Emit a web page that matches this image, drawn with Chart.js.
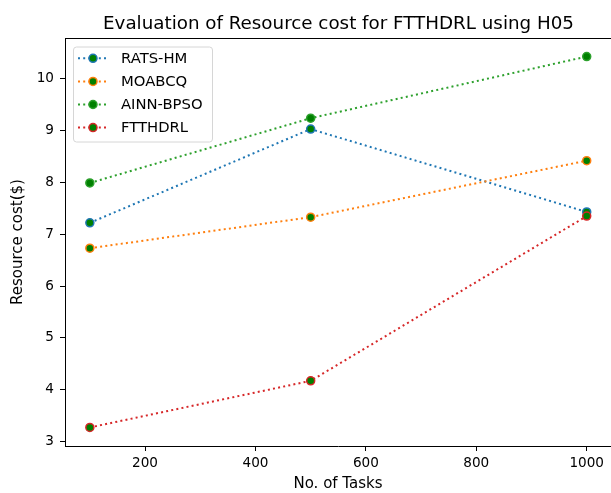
<!DOCTYPE html>
<html>
<head>
<meta charset="utf-8">
<script src="https://cdn.jsdelivr.net/npm/chart.js@4/dist/chart.umd.min.js"></script>
<style>
  html, body { margin: 0; padding: 0; background: #fff; }
  #wrap { width: 611px; height: 493px; }
</style>
</head>
<body>
<div id="wrap"><canvas id="c" width="611" height="493"></canvas></div>
<script>
// Number of tasks on the x axis
const tasks = [100, 500, 1000];

// Resource cost ($) per method
const ratsHm   = [7.22, 9.03, 7.43];
const moabcq   = [6.73, 7.33, 8.42];
const ainnBpso = [7.99, 9.24, 10.43];
const ftthdrl  = [3.27, 4.17, 7.35];

const seriesLabels = ['RATS-HM', 'MOABCQ', 'AINN-BPSO', 'FTTHDRL'];
const seriesColors = ['#1f77b4', '#ff7f0e', '#2ca02c', '#d62728'];
const markerFill = '#008000';

// Axis ticks
const xTicks = [200, 400, 600, 800, 1000];
const yTicks = [3, 4, 5, 6, 7, 8, 9, 10];

const chartTitle = 'Evaluation of Resource cost for FTTHDRL using H05';

const FONT = 'DejaVu Sans';
const dash = [2, 3.2];

const seriesData = [ratsHm, moabcq, ainnBpso, ftthdrl];
const datasets = seriesData.map((vals, i) => ({
  label: seriesLabels[i],
  data: tasks.map((t, j) => ({ x: t, y: vals[j] })),
  borderColor: seriesColors[i],
  backgroundColor: markerFill,
  borderWidth: 2,
  borderDash: dash,
  borderCapStyle: 'butt',
  pointRadius: 4,
  pointBorderWidth: 1.5,
  pointBorderColor: seriesColors[i],
  pointBackgroundColor: markerFill,
  fill: false,
  tension: 0,
  order: seriesData.length - i
}));

// Title above the axes and the top spine of the axes box
const frame = {
  id: 'frame',
  afterDraw(chart) {
    const { ctx, chartArea: a } = chart;
    ctx.save();
    ctx.strokeStyle = '#000';
    ctx.lineWidth = 1;
    ctx.beginPath();
    ctx.moveTo(a.left, a.top + 0.5);
    ctx.lineTo(a.right, a.top + 0.5);
    ctx.stroke();
    ctx.fillStyle = '#000';
    ctx.font = '18.3px "' + FONT + '"';
    ctx.textAlign = 'center';
    ctx.textBaseline = 'alphabetic';
    ctx.fillText(chartTitle, 338.5, 28.5);
    ctx.restore();
  }
};

// Legend box in the upper-left corner of the plot
const innerLegend = {
  id: 'innerLegend',
  afterDraw(chart) {
    const { ctx, chartArea: a } = chart;
    const x0 = a.left + 8, y0 = a.top + 8.5, w = 139, h = 95;
    ctx.save();
    ctx.beginPath();
    ctx.roundRect(x0 + 0.5, y0 + 0.5, w, h, 3);
    ctx.fillStyle = 'rgba(255,255,255,0.8)';
    ctx.fill();
    ctx.strokeStyle = '#d6d6d6';
    ctx.lineWidth = 1;
    ctx.stroke();
    chart.data.datasets.forEach((ds, i) => {
      const y = y0 + 11.8 + i * 23.1;
      ctx.beginPath();
      ctx.setLineDash(dash);
      ctx.lineWidth = 2;
      ctx.strokeStyle = ds.borderColor;
      ctx.moveTo(x0 + 5, y);
      ctx.lineTo(x0 + 33, y);
      ctx.stroke();
      ctx.setLineDash([]);
      ctx.beginPath();
      ctx.arc(x0 + 20, y, 4, 0, Math.PI * 2);
      ctx.fillStyle = ds.pointBackgroundColor;
      ctx.fill();
      ctx.lineWidth = 1.5;
      ctx.strokeStyle = ds.pointBorderColor;
      ctx.stroke();
      ctx.fillStyle = '#000';
      ctx.font = '14.8px "' + FONT + '"';
      ctx.textAlign = 'left';
      ctx.textBaseline = 'middle';
      ctx.fillText(ds.label, x0 + 48, y + 0.5);
    });
    ctx.restore();
  }
};

new Chart(document.getElementById('c'), {
  type: 'line',
  data: { datasets },
  plugins: [frame, innerLegend],
  options: {
    responsive: false,
    animation: false,
    layout: { autoPadding: false, padding: { left: 0, right: 0, top: 38, bottom: 0 } },
    plugins: {
      legend: { display: false },
      tooltip: { enabled: false },
      title: { display: false }
    },
    scales: {
      x: {
        type: 'linear',
        min: 55,
        max: 1044,
        afterBuildTicks(scale) { scale.ticks = xTicks.map(v => ({ value: v })); },
        afterFit(scale) { scale.height = 47; scale.paddingLeft = 0; scale.paddingRight = 0; },
        grid: { display: true, drawOnChartArea: false, drawTicks: true, tickLength: 5, tickColor: '#000', tickWidth: 1 },
        border: { display: true, color: '#000', width: 1 },
        ticks: {
          color: '#000', font: { family: FONT, size: 13.6 }, padding: 4, maxRotation: 0, autoSkip: false,
          callback: v => String(v)
        },
        title: { display: true, text: 'No. of Tasks', color: '#000', font: { family: FONT, size: 15 }, padding: { top: 0, bottom: 0 } }
      },
      y: {
        type: 'linear',
        min: 2.912,
        max: 10.788,
        afterBuildTicks(scale) { scale.ticks = yTicks.map(v => ({ value: v })); },
        afterFit(scale) { scale.width = 65; },
        grid: { display: true, drawOnChartArea: false, drawTicks: true, tickLength: 5, tickColor: '#000', tickWidth: 1 },
        border: { display: true, color: '#000', width: 1 },
        ticks: { color: '#000', font: { family: FONT, size: 13.6 }, padding: 6, autoSkip: false, callback: v => String(v) },
        title: { display: true, text: 'Resource cost($)', color: '#000', font: { family: FONT, size: 15 }, padding: { top: 9, bottom: 0 } }
      }
    }
  }
});
</script>
</body>
</html>
